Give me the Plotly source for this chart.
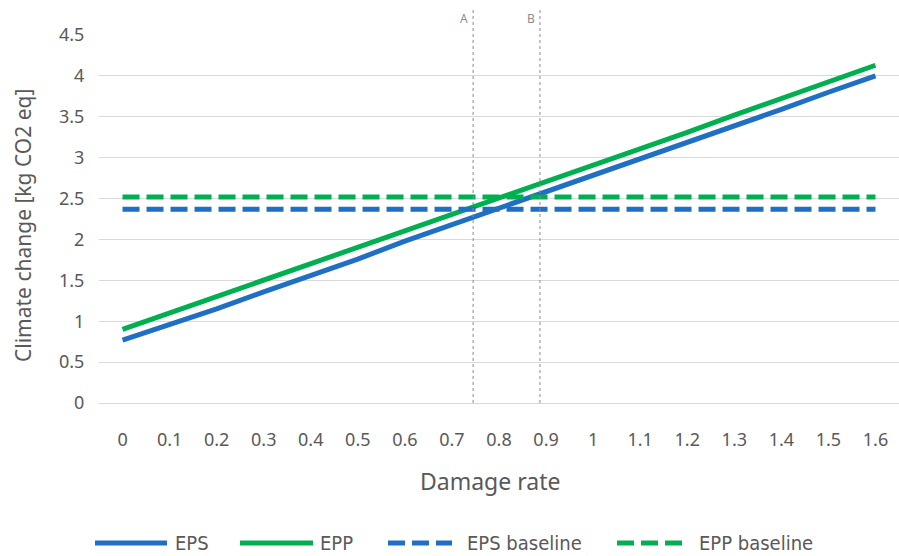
import plotly.graph_objects as go

damage_rate = [0, 0.1, 0.2, 0.3, 0.4, 0.5, 0.6, 0.7, 0.8, 0.9, 1.0, 1.1, 1.2, 1.3, 1.4, 1.5, 1.6]
tick_labels = ["0", "0.1", "0.2", "0.3", "0.4", "0.5", "0.6", "0.7", "0.8", "0.9", "1", "1.1", "1.2", "1.3", "1.4", "1.5", "1.6"]
eps = [0.77, 0.96, 1.15, 1.36, 1.56, 1.76, 1.98, 2.18, 2.38, 2.58, 2.78, 2.98, 3.19, 3.39, 3.59, 3.80, 4.00]
epp = [0.90, 1.10, 1.30, 1.50, 1.70, 1.90, 2.10, 2.31, 2.51, 2.71, 2.91, 3.11, 3.31, 3.52, 3.72, 3.92, 4.13]
eps_baseline = [2.37] * 17
epp_baseline = [2.52] * 17
marker_x = [0.745, 0.887]
marker_labels = ["A", "B"]
series_names = ["EPS", "EPP", "EPS baseline", "EPP baseline"]

BLUE = "#1F6FC5"
GREEN = "#00B050"
DASH = "17px,7px"

styles = [
    dict(color=BLUE, width=5),
    dict(color=GREEN, width=5),
    dict(color=BLUE, width=5, dash=DASH),
    dict(color=GREEN, width=5, dash=DASH),
]
series = [eps, epp, eps_baseline, epp_baseline]

fig = go.Figure()
for name, ys, st in zip(series_names, series, styles):
    fig.add_trace(go.Scatter(x=damage_rate, y=ys, mode="lines", name=name,
                             line=st, showlegend=False))

for xv, lab in zip(marker_x, marker_labels):
    fig.add_shape(type="line", xref="x", yref="paper", x0=xv, x1=xv, y0=0, y1=1.068,
                  line=dict(color="#8C8C8C", width=1, dash="dot"))
    fig.add_annotation(x=xv, xref="x", y=1.046, yref="paper", text=lab, showarrow=False,
                       xanchor="right", yanchor="middle", xshift=-3,
                       font=dict(size=12, color="#8C8C8C"))

# manual legend (positions in pixels converted to paper coords)
L, W, T, H = 99, 800, 35, 368
def px(xp):
    return (xp - L) / W
def py(yp):
    return (T + H - yp) / H

legend_line_x = [(95, 167), (240, 313), (388, 452), (617, 683)]
legend_text_x = [173, 318, 465, 697]
legend_y = 543
for name, st, (x0, x1), tx in zip(series_names, styles, legend_line_x, legend_text_x):
    lst = dict(st)
    if "dash" in lst:
        lst["dash"] = "17px,7px"
    fig.add_shape(type="line", xref="paper", yref="paper", x0=px(x0), x1=px(x1),
                  y0=py(legend_y), y1=py(legend_y), line=lst)
    fig.add_annotation(x=px(tx), y=py(legend_y), xref="paper", yref="paper", text=name,
                       showarrow=False, xanchor="left", yanchor="middle",
                       font=dict(size=20, color="#595959",
                                 family="DejaVu Sans Condensed, Noto Sans, sans-serif"))

font_main = "Segoe UI, Noto Sans, Open Sans, sans-serif"

# axis titles as annotations for precise placement
fig.add_annotation(x=px(490), y=py(481), xref="paper", yref="paper", text="Damage rate",
                   showarrow=False, xanchor="center", yanchor="middle",
                   font=dict(size=23, color="#595959", family=font_main))
fig.add_annotation(x=px(23), y=py(226), xref="paper", yref="paper",
                   text="Climate change [kg CO2 eq]", textangle=-90,
                   showarrow=False, xanchor="center", yanchor="middle",
                   font=dict(size=21, color="#595959", family=font_main))

fig.update_layout(
    width=899, height=556,
    margin=dict(l=99, r=0, t=35, b=153, autoexpand=False),
    plot_bgcolor="white", paper_bgcolor="white",
    font=dict(family=font_main, color="#595959", size=18),
    showlegend=False,
    xaxis=dict(range=[-0.05, 1.65], tickvals=damage_rate, ticktext=tick_labels,
               showgrid=False, zeroline=False, showline=True, linecolor="#D9D9D9",
               ticks="outside", ticklen=20, tickcolor="rgba(0,0,0,0)", automargin=False,
               tickfont=dict(size=18, color="#595959")),
    yaxis=dict(range=[0, 4.5], dtick=0.5, showgrid=True, gridcolor="#D9D9D9", gridwidth=1,
               zeroline=False, ticks="outside", ticklen=10, tickcolor="rgba(0,0,0,0)",
               tickformat="~g", automargin=False,
               tickfont=dict(size=18, color="#595959")),
)

fig.write_html("out.html", config={"displayModeBar": False},
               post_script="document.body.style.margin='0';")
